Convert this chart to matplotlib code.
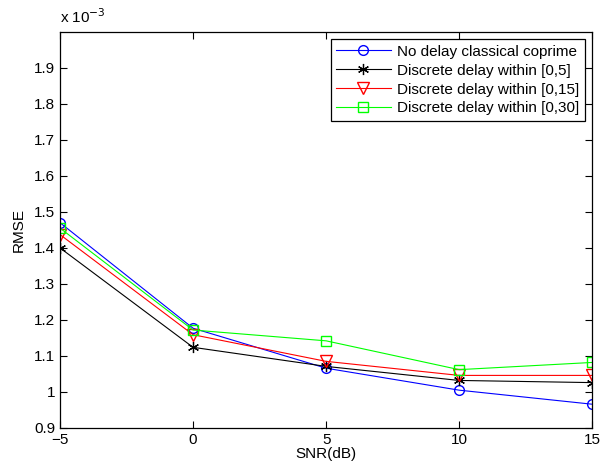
import matplotlib
matplotlib.use("Agg")
import matplotlib.pyplot as plt
from matplotlib.ticker import FuncFormatter

# ---- data ----
snr = [-5, 0, 5, 10, 15]
no_delay = [1.470e-3, 1.177e-3, 1.066e-3, 1.005e-3, 0.966e-3]
delay_5 = [1.400e-3, 1.124e-3, 1.071e-3, 1.032e-3, 1.026e-3]
delay_15 = [1.437e-3, 1.159e-3, 1.085e-3, 1.046e-3, 1.046e-3]
delay_30 = [1.455e-3, 1.172e-3, 1.142e-3, 1.062e-3, 1.082e-3]
labels = ["No delay classical coprime", "Discrete delay within [0,5]",
          "Discrete delay within [0,15]", "Discrete delay within [0,30]"]

plt.rcParams["font.family"] = ["Liberation Sans", "DejaVu Sans"]
plt.rcParams["font.size"] = 11

fig = plt.figure(figsize=(6.0, 4.68), dpi=100)
ax = fig.add_axes([0.1, 0.0855, 0.887, 0.8465])

ax.plot(snr, no_delay, color="#0000ff", marker="o", markersize=7, mfc="none", lw=0.8, label=labels[0])
ax.plot(snr, delay_5, color="black", marker=(6, 2, 0), markersize=8, mew=0.9, lw=0.8, label=labels[1])
ax.plot(snr, delay_15, color="#ff0000", marker="v", markersize=8, mfc="none", lw=0.8, label=labels[2])
ax.plot(snr, delay_30, color="#00ff00", marker="s", markersize=7, mfc="none", lw=0.8, label=labels[3])

ax.set_xlim(-5, 15)
ax.set_ylim(0.9e-3, 2.0e-3)
ax.set_xticks(snr)
ax.set_yticks([v * 1e-4 for v in range(9, 20)])
ax.yaxis.set_major_formatter(FuncFormatter(lambda v, p: "%g" % round(v * 1e3, 2)))
ax.tick_params(direction="in", top=True, right=True, length=5, width=0.8, labelsize=11)
for s in ax.spines.values():
    s.set_linewidth(0.9)

ax.text(0.0, 1.015, r"x 10$^{-3}$", transform=ax.transAxes, ha="left", va="bottom", fontsize=11)
ax.set_xlabel("SNR(dB)", labelpad=0)
ax.set_ylabel("RMSE", labelpad=6)

leg = ax.legend(loc="upper right", fancybox=False, edgecolor="black", framealpha=1,
                handlelength=3.6, labelspacing=0.32, borderaxespad=0.5, borderpad=0.35,
                handletextpad=0.4)
leg.get_frame().set_linewidth(0.9)

fig.savefig("out.png", dpi=100)
